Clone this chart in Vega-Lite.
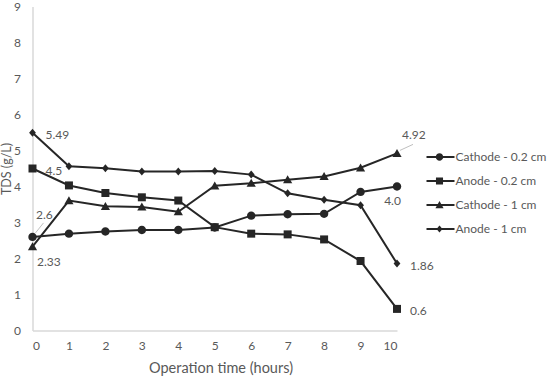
{
  "$schema": "https://vega.github.io/schema/vega-lite/v6.json",
  "width": 364.5,
  "height": 324,
  "autosize": {"type": "none"},
  "padding": {"left": 32.5, "top": 6.5, "right": 150, "bottom": 47.5},
  "background": "white",
  "config": {
    "view": {"stroke": null},
    "font": "Lato",
    "text": {"font": "Lato", "fontSize": 12, "color": "#595959"}
  },
  "data": {
    "values": [
      {"series": "Cathode - 0.2 cm", "hours": 0, "tds": 2.6, "label": "2.6"},
      {"series": "Cathode - 0.2 cm", "hours": 1, "tds": 2.69},
      {"series": "Cathode - 0.2 cm", "hours": 2, "tds": 2.75},
      {"series": "Cathode - 0.2 cm", "hours": 3, "tds": 2.79},
      {"series": "Cathode - 0.2 cm", "hours": 4, "tds": 2.79},
      {"series": "Cathode - 0.2 cm", "hours": 5, "tds": 2.86},
      {"series": "Cathode - 0.2 cm", "hours": 6, "tds": 3.19},
      {"series": "Cathode - 0.2 cm", "hours": 7, "tds": 3.23},
      {"series": "Cathode - 0.2 cm", "hours": 8, "tds": 3.24},
      {"series": "Cathode - 0.2 cm", "hours": 9, "tds": 3.85},
      {"series": "Cathode - 0.2 cm", "hours": 10, "tds": 4.0, "label": "4.0"},
      {"series": "Anode - 0.2 cm", "hours": 0, "tds": 4.5, "label": "4.5"},
      {"series": "Anode - 0.2 cm", "hours": 1, "tds": 4.03},
      {"series": "Anode - 0.2 cm", "hours": 2, "tds": 3.82},
      {"series": "Anode - 0.2 cm", "hours": 3, "tds": 3.7},
      {"series": "Anode - 0.2 cm", "hours": 4, "tds": 3.61},
      {"series": "Anode - 0.2 cm", "hours": 5, "tds": 2.87},
      {"series": "Anode - 0.2 cm", "hours": 6, "tds": 2.69},
      {"series": "Anode - 0.2 cm", "hours": 7, "tds": 2.67},
      {"series": "Anode - 0.2 cm", "hours": 8, "tds": 2.53},
      {"series": "Anode - 0.2 cm", "hours": 9, "tds": 1.93},
      {"series": "Anode - 0.2 cm", "hours": 10, "tds": 0.6, "label": "0.6"},
      {"series": "Cathode - 1 cm", "hours": 0, "tds": 2.33, "label": "2.33"},
      {"series": "Cathode - 1 cm", "hours": 1, "tds": 3.61},
      {"series": "Cathode - 1 cm", "hours": 2, "tds": 3.45},
      {"series": "Cathode - 1 cm", "hours": 3, "tds": 3.43},
      {"series": "Cathode - 1 cm", "hours": 4, "tds": 3.3},
      {"series": "Cathode - 1 cm", "hours": 5, "tds": 4.02},
      {"series": "Cathode - 1 cm", "hours": 6, "tds": 4.09},
      {"series": "Cathode - 1 cm", "hours": 7, "tds": 4.19},
      {"series": "Cathode - 1 cm", "hours": 8, "tds": 4.28},
      {"series": "Cathode - 1 cm", "hours": 9, "tds": 4.52},
      {"series": "Cathode - 1 cm", "hours": 10, "tds": 4.92, "label": "4.92"},
      {"series": "Anode - 1 cm", "hours": 0, "tds": 5.49, "label": "5.49"},
      {"series": "Anode - 1 cm", "hours": 1, "tds": 4.56},
      {"series": "Anode - 1 cm", "hours": 2, "tds": 4.51},
      {"series": "Anode - 1 cm", "hours": 3, "tds": 4.42},
      {"series": "Anode - 1 cm", "hours": 4, "tds": 4.42},
      {"series": "Anode - 1 cm", "hours": 5, "tds": 4.43},
      {"series": "Anode - 1 cm", "hours": 6, "tds": 4.33},
      {"series": "Anode - 1 cm", "hours": 7, "tds": 3.81},
      {"series": "Anode - 1 cm", "hours": 8, "tds": 3.63},
      {"series": "Anode - 1 cm", "hours": 9, "tds": 3.48},
      {"series": "Anode - 1 cm", "hours": 10, "tds": 1.86, "label": "1.86"}
    ]
  },
  "encoding": {
    "x": {
      "field": "hours",
      "type": "quantitative",
      "scale": {"domain": [0, 10], "nice": false},
      "axis": {
        "title": "Operation time (hours)",
        "values": [0, 1, 2, 3, 4, 5, 6, 7, 8, 9, 10],
        "grid": false,
        "ticks": false,
        "domainColor": "#d9d9d9",
        "domainWidth": 1.5,
        "labelColor": "#595959",
        "labelFont": "Lato",
        "labelFontSize": 12,
        "labelPadding": 10,
        "titleColor": "#595959",
        "titleFont": "Lato",
        "titleFontSize": 14.5,
        "titleFontWeight": "normal",
        "titlePadding": 10,
        "titleX": 188
      }
    },
    "y": {
      "field": "tds",
      "type": "quantitative",
      "scale": {"domain": [0, 9], "nice": false},
      "axis": {
        "title": "TDS (g/L)",
        "values": [0, 1, 2, 3, 4, 5, 6, 7, 8, 9],
        "grid": false,
        "ticks": false,
        "domainColor": "#d9d9d9",
        "domainWidth": 1.5,
        "labelColor": "#595959",
        "labelFont": "Lato",
        "labelFontSize": 12,
        "labelPadding": 12,
        "titleColor": "#595959",
        "titleFont": "Lato",
        "titleFontSize": 12.5,
        "titleFontWeight": "normal",
        "titleX": -22,
        "titleBaseline": "alphabetic"
      }
    }
  },
  "layer": [
    {
      "transform": [{"filter": "datum.label === '2.6'"}],
      "mark": {"type": "rule", "color": "#bfbfbf", "strokeWidth": 1, "xOffset": 3, "yOffset": -4, "x2Offset": 11, "y2Offset": -14},
      "encoding": {"x2": {"field": "hours"}, "y2": {"field": "tds"}}
    },
    {
      "transform": [{"filter": "datum.label === '4.92'"}],
      "mark": {"type": "rule", "color": "#bfbfbf", "strokeWidth": 1, "xOffset": 3, "yOffset": -3, "x2Offset": 16, "y2Offset": -9},
      "encoding": {"x2": {"field": "hours"}, "y2": {"field": "tds"}}
    },
    {
      "mark": {"type": "line", "strokeWidth": 2},
      "encoding": {
        "color": {
          "field": "series",
          "type": "nominal",
          "sort": ["Cathode - 0.2 cm", "Anode - 0.2 cm", "Cathode - 1 cm", "Anode - 1 cm"],
          "scale": {"range": ["#262626", "#262626", "#262626", "#262626"]},
          "legend": {
            "title": null,
            "orient": "none",
            "legendX": 394,
            "legendY": 143.5,
            "clipHeight": 14,
            "rowPadding": 10,
            "labelFont": "Lato",
            "labelFontSize": 12,
            "labelColor": "#595959",
            "labelOffset": 3,
            "symbolType": "M-1.25,0H1.25",
            "symbolSize": 576,
            "symbolStrokeWidth": 1.8
          }
        }
      }
    },
    {
      "mark": {"type": "point", "filled": true, "opacity": 1, "color": "#262626", "size": 64},
      "encoding": {
        "shape": {
          "field": "series",
          "type": "nominal",
          "scale": {
            "domain": ["Cathode - 0.2 cm", "Anode - 0.2 cm", "Cathode - 1 cm", "Anode - 1 cm"],
            "range": [
              "M1.05,0A1.05,1.05,0,1,1,-1.05,0A1.05,1.05,0,1,1,1.05,0Z",
              "M-1,-1H1V1H-1Z",
              "M0,-1.1L1.15,0.9H-1.15Z",
              "M0,-1L0.85,0L0,1L-0.85,0Z"
            ]
          },
          "legend": {
            "title": null,
            "orient": "none",
            "legendX": 401,
            "legendY": 143.5,
            "clipHeight": 14,
            "rowPadding": 10,
            "labelFont": "Lato",
            "labelFontSize": 12,
            "labelExpr": "''",
            "labelOpacity": 0,
            "symbolSize": 50,
            "symbolOpacity": 1,
            "symbolStrokeWidth": 0
          }
        }
      }
    },
    {
      "transform": [{"filter": "indexof(['5.49', '4.5', '1.86', '0.6'], datum.label) >= 0"}],
      "mark": {"type": "text", "align": "left", "baseline": "middle", "dx": 13, "dy": 2},
      "encoding": {"text": {"field": "label"}}
    },
    {
      "transform": [{"filter": "datum.label === '2.6'"}],
      "mark": {"type": "text", "align": "left", "baseline": "middle", "dx": 3.5, "dy": -22},
      "encoding": {"text": {"field": "label"}}
    },
    {
      "transform": [{"filter": "datum.label === '2.33'"}],
      "mark": {"type": "text", "align": "left", "baseline": "middle", "dx": 4.5, "dy": 15},
      "encoding": {"text": {"field": "label"}}
    },
    {
      "transform": [{"filter": "datum.label === '4.92'"}],
      "mark": {"type": "text", "align": "left", "baseline": "middle", "dx": 5, "dy": -18},
      "encoding": {"text": {"field": "label"}}
    },
    {
      "transform": [{"filter": "datum.label === '4.0'"}],
      "mark": {"type": "text", "align": "center", "baseline": "middle", "dx": -4.5, "dy": 14},
      "encoding": {"text": {"field": "label"}}
    }
  ]
}
